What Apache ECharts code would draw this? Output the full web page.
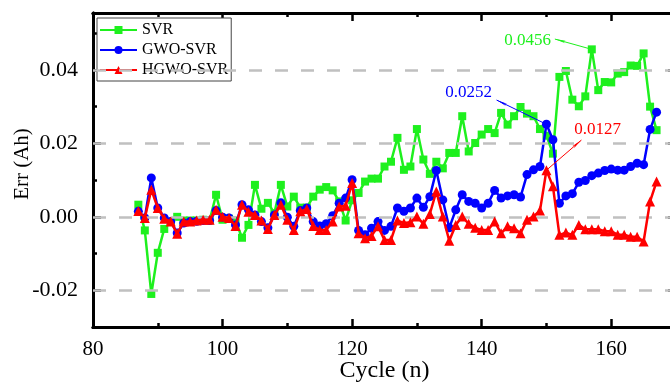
<!DOCTYPE html>
<html>
<head>
<meta charset="utf-8">
<script src="https://cdn.jsdelivr.net/npm/echarts@6/dist/echarts.min.js"></script>
<style>
html, body { margin: 0; padding: 0; background: #fff; }
#chart { width: 670px; height: 384px; }
</style>
</head>
<body>
<div id="chart"></div>
<script>
// cycle numbers on the x axis
const cycles = [87, 88, 89, 90, 91, 92, 93, 94, 95, 96, 97, 98, 99, 100, 101, 102, 103, 104, 105, 106,
    107, 108, 109, 110, 111, 112, 113, 114, 115, 116, 117, 118, 119, 120, 121, 122, 123, 124, 125, 126,
    127, 128, 129, 130, 131, 132, 133, 134, 135, 136, 137, 138, 139, 140, 141, 142, 143, 144, 145, 146,
    147, 148, 149, 150, 151, 152, 153, 154, 155, 156, 157, 158, 159, 160, 161, 162, 163, 164, 165, 166, 167];

const svr = [0.0033, -0.0037, -0.0210, -0.0098, -0.0033, -0.0013, 0.0000, -0.0010, -0.0010, -0.0010,
    -0.0008, -0.0010, 0.0060, -0.0008, -0.0005, -0.0010, -0.0057, -0.0022, 0.0087, 0.0022,
    0.0038, 0.0010, 0.0087, 0.0028, 0.0055, 0.0025, 0.0025, 0.0055, 0.0074, 0.0081,
    0.0072, 0.0042, -0.0010, 0.0045, 0.0065, 0.0096, 0.0104, 0.0104, 0.0137, 0.0150,
    0.0215, 0.0128, 0.0137, 0.0239, 0.0156, 0.0117, 0.0150, 0.0132, 0.0174, 0.0174,
    0.0274, 0.0178, 0.0201, 0.0224, 0.0239, 0.0228, 0.0283, 0.0251, 0.0274, 0.0299,
    0.0281, 0.0274, 0.0239, 0.0221, 0.0172, 0.0381, 0.0397, 0.0319, 0.0301, 0.0328,
    0.0456, 0.0345, 0.0367, 0.0366, 0.0390, 0.0394, 0.0412, 0.0411, 0.0445, 0.0300, 0.0236];

const gwoSvr = [0.0015, -0.0003, 0.0106, 0.0024, -0.0003, -0.0013, -0.0044, -0.0017, -0.0013, -0.0012,
    -0.0010, -0.0010, 0.0017, -0.0001, -0.0003, -0.0022, 0.0033, 0.0019, 0.0005, -0.0013,
    -0.0030, 0.0005, 0.0038, -0.0001, -0.0026, 0.0017, 0.0024, -0.0013, -0.0025, -0.0019,
    0.0003, 0.0037, 0.0051, 0.0101, -0.0037, -0.0049, -0.0031, -0.0013, -0.0037, -0.0026,
    0.0024, 0.0015, 0.0024, 0.0051, 0.0026, 0.0055, 0.0126, 0.0046, -0.0030, 0.0019,
    0.0060, 0.0042, 0.0037, 0.0024, 0.0037, 0.0072, 0.0051, 0.0057, 0.0060, 0.0054,
    0.0115, 0.0128, 0.0137, 0.0252, 0.0210, 0.0037, 0.0057, 0.0063, 0.0094, 0.0099,
    0.0112, 0.0119, 0.0126, 0.0130, 0.0127, 0.0127, 0.0137, 0.0146, 0.0142, 0.0238, 0.0285];

const hgwoSvr = [0.0016, -0.0003, 0.0074, 0.0024, -0.0005, -0.0013, -0.0046, -0.0013, -0.0013, -0.0010,
    -0.0008, -0.0008, 0.0019, 0.0000, -0.0003, -0.0025, 0.0033, 0.0014, 0.0005, -0.0010,
    -0.0033, 0.0005, 0.0033, -0.0008, -0.0036, 0.0015, 0.0021, -0.0025, -0.0036, -0.0036,
    -0.0013, 0.0028, 0.0030, 0.0092, -0.0045, -0.0058, -0.0052, -0.0026, -0.0063, -0.0063,
    -0.0010, -0.0017, -0.0015, 0.0001, -0.0019, 0.0008, 0.0069, 0.0001, -0.0065, -0.0022,
    0.0001, -0.0019, -0.0030, -0.0036, -0.0036, -0.0013, -0.0045, -0.0026, -0.0031, -0.0045,
    -0.0008, 0.0001, 0.0017, 0.0127, 0.0083, -0.0049, -0.0043, -0.0049, -0.0022, -0.0034,
    -0.0034, -0.0034, -0.0039, -0.0039, -0.0049, -0.0049, -0.0054, -0.0054, -0.0067, 0.0042, 0.0096];

const xMajorTicks = [80, 100, 120, 140, 160];
const xMinorTicks = [90, 110, 130, 150];
const yMajorTicks = [-0.02, 0, 0.02, 0.04];
const yMinorTicks = [-0.01, 0.01, 0.03, 0.05];

const FONT = 'Liberation Serif';
const GREEN = '#1ef01e';
const BLUE = '#0000ff';
const RED = '#ff0000';

// annotated points: cycle, arrow tip, label centre
const notes = {
    svr: { cycle: 157, tip: [151.3, 0.0484], text: [147.1, 0.0479] },
    gwo: { cycle: 150, tip: [142.3, 0.0318], text: [138.0, 0.0339] },
    hgwo: { cycle: 150, tip: [155.4, 0.0209], text: [157.9, 0.0239] }
};

function pairs(values) {
    return cycles.map((c, i) => [c, values[i]]);
}

function annotate(values, note, color) {
    const i = cycles.indexOf(note.cycle);
    const v = values[i];
    return {
        markLine: {
            silent: true,
            animation: false,
            symbol: ['none', 'arrow'],
            symbolSize: [2, 11],
            lineStyle: { color, width: 1, type: 'solid' },
            label: { show: false },
            data: [[{ coord: [note.cycle, v] }, { coord: note.tip }]]
        },
        markPoint: {
            silent: true,
            animation: false,
            symbol: 'circle',
            symbolSize: 1,
            itemStyle: { color: 'rgba(0,0,0,0)' },
            label: {
                show: true, position: 'inside', formatter: v.toFixed(4),
                color, fontFamily: FONT, fontSize: 17
            },
            data: [{ coord: note.text }]
        }
    };
}

function xAxisDef(position, ticks, len, withLabels) {
    return {
        type: 'value', position, min: 80, max: 170,
        axisLine: { show: true, onZero: false, lineStyle: { color: '#000', width: 3 } },
        axisTick: { show: true, inside: true, length: len, customValues: ticks, lineStyle: { color: '#000', width: 2.5 } },
        axisLabel: withLabels
            ? { show: true, customValues: xMajorTicks, color: '#000', fontFamily: FONT, fontSize: 21, margin: 12 }
            : { show: false },
        splitLine: { show: false }
    };
}

function yAxisDef(position, ticks, len, withLabels) {
    return {
        type: 'value', position, min: -0.03, max: 0.0555,
        axisLine: { show: true, onZero: false, lineStyle: { color: '#000', width: 3 } },
        axisTick: { show: true, inside: true, length: len, customValues: ticks, lineStyle: { color: '#000', width: 2.5 } },
        axisLabel: withLabels
            ? { show: true, customValues: yMajorTicks, formatter: v => v.toFixed(2), color: '#000', fontFamily: FONT, fontSize: 22, margin: 15 }
            : { show: false },
        splitLine: { show: false }
    };
}

const xAxes = [
    xAxisDef('bottom', xMajorTicks, 8, true),
    xAxisDef('bottom', xMinorTicks, 4, false),
    xAxisDef('top', xMajorTicks, 8, false),
    xAxisDef('top', xMinorTicks, 4, false)
];
Object.assign(xAxes[0], {
    name: 'Cycle (n)', nameLocation: 'middle', nameGap: 32, nameMoveOverlap: false,
    nameTextStyle: { color: '#000', fontFamily: FONT, fontSize: 24 }
});

const yAxes = [
    yAxisDef('left', yMajorTicks, 8, true),
    yAxisDef('left', yMinorTicks, 4, false),
    yAxisDef('right', yMajorTicks, 8, false),
    yAxisDef('right', yMinorTicks, 4, false)
];
Object.assign(yAxes[0], {
    name: 'Err (Ah)', nameLocation: 'middle', nameGap: 60, nameMoveOverlap: false,
    nameTextStyle: { color: '#000', fontFamily: FONT, fontSize: 21, padding: [0, 0, 0, 12] }
});

const chart = echarts.init(document.getElementById('chart'), null, { renderer: 'canvas' });

chart.setOption({
    animation: false,
    backgroundColor: '#fff',
    grid: { left: 93, width: 583, top: 13, height: 314, containLabel: false, outerBoundsMode: 'none' },
    legend: {
        data: ['SVR', 'GWO-SVR', 'HGWO-SVR'],
        orient: 'vertical', left: 97, top: 18,
        itemWidth: 37, itemHeight: 10, itemGap: 4,
        padding: [4, 3, 3, 2],
        borderColor: '#444', borderWidth: 1, backgroundColor: '#fff',
        textStyle: { color: '#000', fontFamily: FONT, fontSize: 16 }
    },
    xAxis: xAxes,
    yAxis: yAxes,
    series: [
        {
            name: 'gridlines', type: 'line', data: [], z: 1,
            markLine: {
                silent: true, animation: false, symbol: ['none', 'none'],
                label: { show: false },
                lineStyle: { color: '#c0c0c0', width: 2.5, type: [13, 13] },
                data: yMajorTicks.map(v => ({ yAxis: v }))
            }
        },
        Object.assign({
            name: 'SVR', type: 'line', z: 3, data: pairs(svr),
            symbol: 'rect', symbolSize: 8,
            lineStyle: { color: GREEN, width: 2.5 },
            itemStyle: { color: GREEN }
        }, annotate(svr, notes.svr, GREEN)),
        Object.assign({
            name: 'GWO-SVR', type: 'line', z: 4, data: pairs(gwoSvr),
            symbol: 'circle', symbolSize: 9,
            lineStyle: { color: BLUE, width: 2.5 },
            itemStyle: { color: BLUE }
        }, annotate(gwoSvr, notes.gwo, BLUE)),
        Object.assign({
            name: 'HGWO-SVR', type: 'line', z: 5, data: pairs(hgwoSvr),
            symbol: 'triangle', symbolSize: 10,
            lineStyle: { color: RED, width: 2.5 },
            itemStyle: { color: RED }
        }, annotate(hgwoSvr, notes.hgwo, RED))
    ]
});
</script>
</body>
</html>
